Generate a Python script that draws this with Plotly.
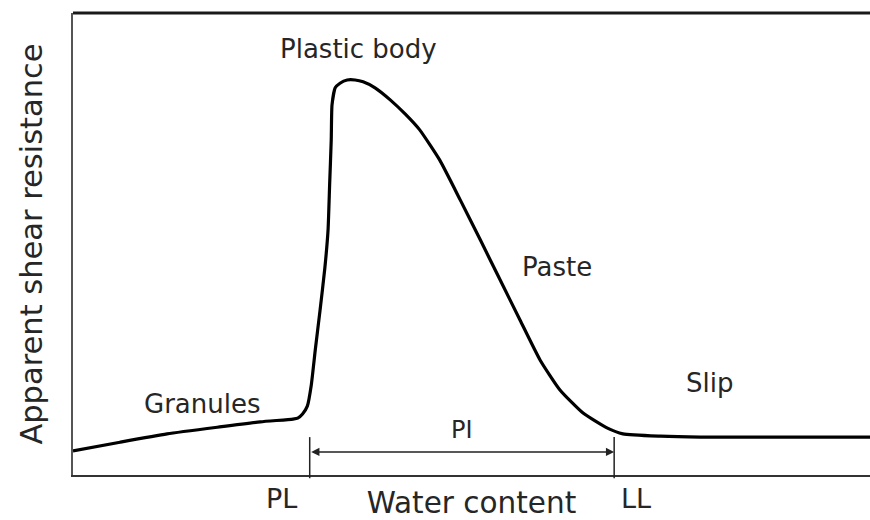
import plotly.graph_objects as go

# Curve (arbitrary units: water content 0-100, resistance 0-100)
water = [0, 5.9, 11.8, 18.4, 23.5, 27.6, 28.2, 28.8, 29.4, 29.9,
         30.4, 31.0, 31.6, 32.0, 32.2, 32.4, 32.5, 32.9, 33.5, 34.4,
         35.4, 36.4, 37.9, 39.8, 41.7, 43.5, 46.0, 48.6, 51.1, 53.6,
         56.1, 58.6, 61.1, 64.0, 67.0, 69.0, 73.7, 78.7, 100]
resistance = [5.2, 7.1, 8.9, 10.4, 11.5, 12.1, 12.3, 13.2, 14.9, 19.5,
              27.1, 35.7, 44.8, 53.0, 62.8, 72.5, 80.1, 83.8, 84.8, 85.5,
              85.5, 85.1, 83.8, 81.2, 78.1, 74.7, 68.2, 59.5, 50.9, 42.2,
              33.5, 24.9, 18.4, 13.4, 10.2, 8.9, 8.4, 8.2, 8.2]

limit_names = ["PL", "LL"]
limit_x = [29.7, 67.9]
pi_y = 5.0

region_labels = ["Granules", "Plastic body", "Paste", "Slip"]
region_x = [16.3, 35.8, 60.7, 79.8]
region_y = [15.4, 92.2, 45.0, 19.9]

FONT = "DejaVu Sans"
TXT = "#262626"

fig = go.Figure()
fig.add_trace(go.Scatter(x=water, y=resistance, mode="lines",
                         line=dict(color="black", width=3.2, shape="spline", smoothing=0.5),
                         hoverinfo="skip", showlegend=False))

# region labels
for t, x, y in zip(region_labels, region_x, region_y):
    fig.add_annotation(x=x, y=y, text=t, showarrow=False, xref="x", yref="y",
                       font=dict(family=FONT, size=26, color=TXT))

# PL / LL vertical marks and labels
for name, x in zip(limit_names, limit_x):
    fig.add_shape(type="line", xref="x", yref="paper", x0=x, x1=x, y0=0.082, y1=-0.007,
                  line=dict(color="#222", width=1.5))
    fig.add_annotation(x=x - (3.5 if name == "PL" else -2.8), y=-0.05, xref="x", yref="paper",
                       text=name, showarrow=False, yanchor="middle",
                       font=dict(family=FONT, size=27, color=TXT))

# PI double arrow
fig.add_annotation(x=limit_x[1], y=pi_y, ax=limit_x[0], ay=pi_y, xref="x", yref="y",
                   axref="x", ayref="y", showarrow=True, arrowhead=2, startarrowhead=2,
                   arrowside="end+start", arrowsize=1.1, startarrowsize=1.1, arrowwidth=1.5,
                   arrowcolor="#222", standoff=0, startstandoff=0, text="")
fig.add_annotation(x=(limit_x[0] + limit_x[1]) / 2, y=9.7, text="PI", showarrow=False,
                   xref="x", yref="y", font=dict(family=FONT, size=24, color=TXT))

# top border
fig.add_shape(type="line", xref="paper", yref="paper", x0=0, x1=1, y0=1, y1=1,
              line=dict(color="#1a1a1a", width=3))

fig.update_xaxes(range=[0, 100], showline=True, linecolor="#333", linewidth=2,
                 showticklabels=False, ticks="", showgrid=False, zeroline=False, automargin=False,
                 title=dict(text="Water content", font=dict(family=FONT, size=29.5, color=TXT), standoff=17))
fig.update_yaxes(range=[0, 100], showline=True, linecolor="#555", linewidth=2,
                 showticklabels=False, ticks="", showgrid=False, zeroline=False, automargin=False,
                 title=dict(text="Apparent shear resistance", font=dict(family=FONT, size=30.5, color=TXT), standoff=19))

fig.update_layout(width=870, height=520, margin=dict(l=73, r=0, t=13, b=45),
                  plot_bgcolor="white", paper_bgcolor="white", showlegend=False)

fig.write_html("out.html", config={"displayModeBar": False},
               post_script="document.body.style.margin='0';document.body.style.overflow='hidden';")
